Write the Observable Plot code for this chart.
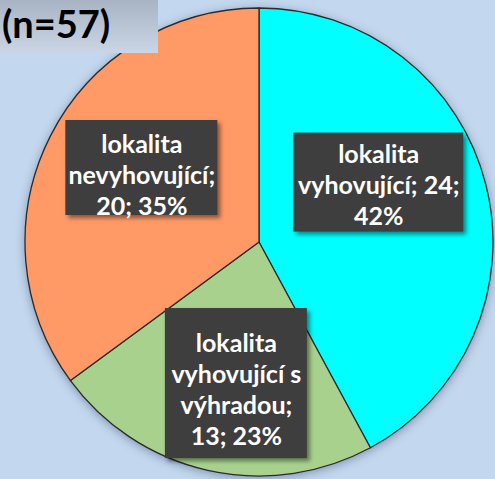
<!DOCTYPE html>
<html><head><meta charset="utf-8">
<script src="https://cdn.jsdelivr.net/npm/d3@7"></script>
<script src="https://cdn.jsdelivr.net/npm/@observablehq/plot@0.6"></script>
<style>
html,body{margin:0;padding:0;background:#c3d7ee;}
#wrap{position:relative;width:495px;height:479px;overflow:hidden;background:#c3d7ee;}
#chart{position:absolute;left:0;top:0;}
#title{position:absolute;left:0;top:0;width:158px;height:53px;background:linear-gradient(#a8b3c4,#cad5e5);
  font-family:Lato,sans-serif;font-weight:bold;font-size:38px;line-height:46px;color:#000;padding-left:2px;box-sizing:border-box;}
</style></head><body>
<div id="wrap"><div id="chart"></div><div id="title"></div></div>
<script>
// ---- data ----
const categories = ["lokalita vyhovující", "lokalita vyhovující s výhradou", "lokalita nevyhovující"];
const counts = [24, 13, 20];
const colors = ["#00ffff", "#a9d18e", "#ff9966"];

const total = d3.sum(counts);
document.getElementById("title").textContent = `(n=${total})`;

// ---- layout (positions/styles only) ----
const labelSep = [[" ", "\n"], ["\n", " "], ["\n", " "]];     // separators after name / after count
const nameBreak = [["lokalita", "vyhovující"], ["lokalita", "vyhovující s", "výhradou"], ["lokalita", "nevyhovující"]];
const textShift = [[-1, -28], [4, 25], [-7, -12]];            // px shift from centroid
const boxRect = [[-85, 85, -51, 48], [-71, 71, -80, 70], [-76, 76, -54, 41]]; // px around text centre
const R_PX = 234, CENTROID_F = 0.53;

const data = categories.map((c, i) => ({name: c, count: counts[i], color: colors[i], i}));
const arcs = d3.pie().sort(null).value(d => d.count)(data);

const labels = arcs.map(a => {
  const d = a.data, i = d.i;
  const mid = (a.startAngle + a.endAngle) / 2;
  const pct = Math.round(d.count / total * 100);
  const name = nameBreak[i].join("\n");
  const text = name + ";" + labelSep[i][0] + d.count + ";" + labelSep[i][1] + pct + "%";
  return {
    x: CENTROID_F * Math.sin(mid) + textShift[i][0] / R_PX,
    y: CENTROID_F * Math.cos(mid) - textShift[i][1] / R_PX,
    text, i
  };
});

function pieMark(index, scales) {
  const cx = scales.x(0), cy = scales.y(0), r = scales.x(1) - scales.x(0);
  const g = d3.create("svg:g")
    .attr("transform", `translate(${cx},${cy})`)
    .style("filter", "drop-shadow(0px 2px 5px rgba(50,70,110,0.45))");
  const arc = d3.arc().innerRadius(0).outerRadius(r);
  g.selectAll("path").data(arcs).join("path")
    .attr("d", arc)
    .attr("fill", d => d.data.color)
    .attr("stroke", "#2b2b2b")
    .attr("stroke-width", 1.3)
    .attr("stroke-linejoin", "round");
  return g.node();
}

function boxMark(index, scales) {
  const g = d3.create("svg:g");
  labels.forEach(l => {
    const px = scales.x(l.x), py = scales.y(l.y), b = boxRect[l.i];
    g.append("rect")
      .attr("x", px + b[0]).attr("y", py + b[2])
      .attr("width", b[1] - b[0]).attr("height", b[3] - b[2])
      .attr("fill", "#3e3e3e")
      .style("filter", "drop-shadow(3px 3px 2px rgba(0,0,0,0.45))");
  });
  return g.node();
}

const chart = Plot.plot({
  width: 495, height: 479,
  marginLeft: 25, marginRight: 2, marginTop: 8, marginBottom: 3,
  x: {domain: [-1, 1], axis: null},
  y: {domain: [-1, 1], axis: null},
  style: {background: "transparent", overflow: "visible"},
  marks: [
    pieMark,
    boxMark,
    Plot.text(labels, {
      x: "x", y: "y", text: "text",
      fill: "white", fontFamily: "Lato, sans-serif", fontWeight: "bold", fontSize: 25,
      lineHeight: 1.24, textAnchor: "middle", lineAnchor: "middle"
    })
  ]
});
document.getElementById("chart").appendChild(chart);
</script>
</body></html>
